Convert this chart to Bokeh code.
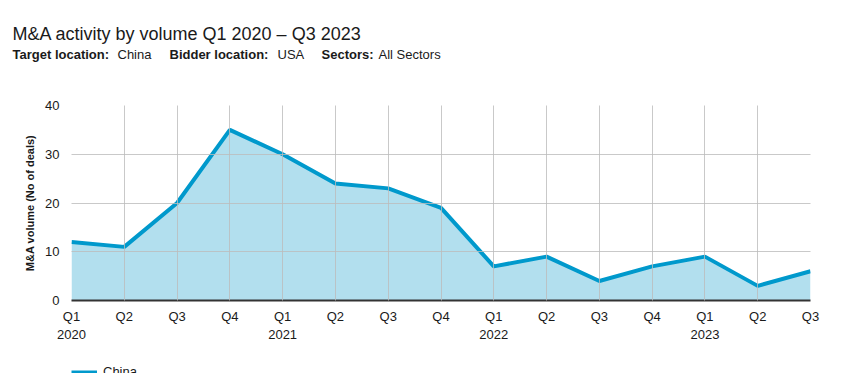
from bokeh.plotting import figure
from bokeh.models import ColumnDataSource, Legend, LegendItem, FixedTicker, Range1d
from bokeh.core.properties import value
from bokeh.embed import file_html
from bokeh.resources import INLINE

quarters = ["Q1", "Q2", "Q3", "Q4", "Q1", "Q2", "Q3", "Q4",
            "Q1", "Q2", "Q3", "Q4", "Q1", "Q2", "Q3"]
years = ["2020", "", "", "", "2021", "", "", "", "2022", "", "", "", "2023", "", ""]
china = [12, 11, 20, 35, 30, 24, 23, 19, 7, 9, 4, 7, 9, 3, 6]
y_ticks = [0, 10, 20, 30, 40]
title = "M&A activity by volume Q1 2020 \u2013 Q3 2023"
sub_keys = ["Target location:", "Bidder location:", "Sectors:"]
sub_vals = ["China", "USA", "All Sectors"]

FONT = "Liberation Sans"
W, H = 851, 373
HEAD = 62
FOOT = 13
LINE_COLOR = "#0099cc"

# ---- header figure (title + subtitle) ----
h = figure(width=W, height=HEAD, output_backend="svg", toolbar_location=None,
           x_range=Range1d(0, W), y_range=Range1d(HEAD, 0),
           x_axis_type=None, y_axis_type=None, min_border=0)
h.outline_line_color = None
h.grid.visible = False
h.text(x=[12], y=[33], text=[title], text_font=value(FONT), text_font_size=value("18px"),
       text_color="#1a1a1a", text_baseline="alphabetic")
h.text(x=[12, 169, 321], y=[54] * 3, text=sub_keys, text_font=value(FONT),
       text_font_size=value("13px"), text_font_style="bold", text_color="#1a1a1a",
       text_baseline="alphabetic")
h.text(x=[117, 277, 378], y=[54] * 3, text=sub_vals, text_font=value(FONT),
       text_font_size=value("13px"), text_color="#1a1a1a", text_baseline="alphabetic")

# ---- main chart ----
xs = list(range(len(china)))
src = ColumnDataSource(dict(x=xs, y=china, zero=[0] * len(china)))
PH = H - HEAD - FOOT
FL, FT, FB, FR = 71, 105 - HEAD, 300 - HEAD, 810
p = figure(width=W, height=PH, output_backend="svg", toolbar_location=None,
           x_range=Range1d(0, len(china) - 1), y_range=Range1d(0, 40),
           min_border_left=FL, min_border_right=W - FR, min_border_top=FT, min_border_bottom=PH - FB)
p.outline_line_color = None

area = p.varea(x="x", y1="zero", y2="y", source=src, fill_color="#b2dfee", fill_alpha=1.0)
line = p.line(x="x", y="y", source=src, line_color=LINE_COLOR, line_width=4)

p.xaxis.ticker = FixedTicker(ticks=xs)
p.xaxis.major_label_overrides = {i: (q + ("\n" + y if y else "")) for i, (q, y) in enumerate(zip(quarters, years))}
p.yaxis.ticker = FixedTicker(ticks=y_ticks)
for ax in (p.xaxis[0], p.yaxis[0]):
    ax.major_tick_line_color = None
    ax.minor_tick_line_color = None
    ax.major_label_text_font = FONT
    ax.major_label_text_font_size = "13px"
    ax.major_label_text_color = "#1a1a1a"
p.xaxis.axis_line_color = "#333333"
p.xaxis.axis_line_width = 2
p.yaxis.axis_line_color = None
p.xaxis.major_label_standoff = 2
p.yaxis.major_label_standoff = 6
p.yaxis.axis_label = "M&A volume (No of deals)"
p.yaxis.axis_label_text_font = FONT
p.yaxis.axis_label_text_font_style = "bold"
p.yaxis.axis_label_text_font_size = "11px"
p.yaxis.axis_label_text_color = "#1a1a1a"
p.yaxis.axis_label_standoff = 6

p.grid.grid_line_color = "#bbbbbb"
p.grid.level = "overlay"
p.grid.grid_line_alpha = 0.8

# ---- footer figure holding the (partly cut) legend ----
f = figure(width=W, height=FOOT, output_backend="svg", toolbar_location=None,
           x_range=Range1d(0, len(china) - 1), y_range=Range1d(1000, 1001),
           x_axis_type=None, y_axis_type=None, min_border=0)
f.outline_line_color = None
f.grid.visible = False
f_line = f.line(x="x", y="y", source=src, line_color=LINE_COLOR, line_width=4)
legend = Legend(items=[LegendItem(label="China", renderers=[f_line])],
                location=(71, -6), border_line_color=None, background_fill_alpha=0,
                padding=0, margin=0, label_standoff=6, label_height=14, glyph_height=14,
                label_text_font=FONT, label_text_font_size="13px", glyph_width=26,
                label_text_color="#1a1a1a")
f.add_layout(legend, "center")

open("out.html", "w").write(file_html([h, p, f], INLINE))
